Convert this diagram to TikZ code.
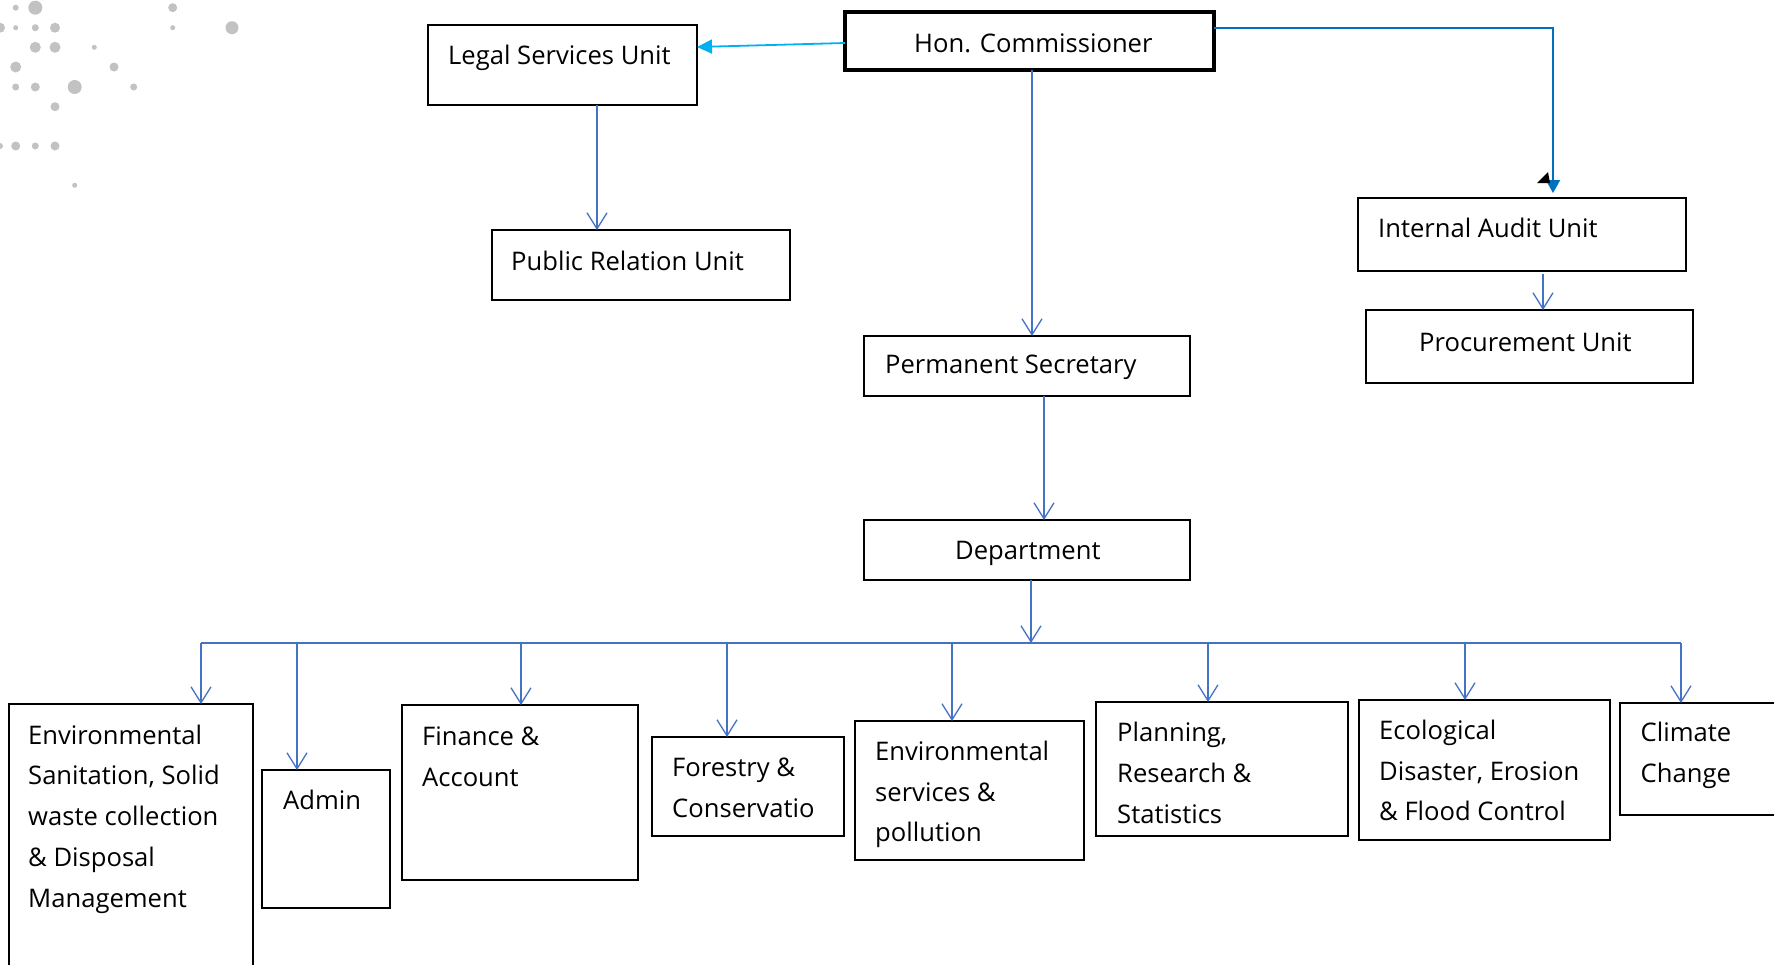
\documentclass[tikz,border=0pt]{standalone}
\usepackage{fontspec}
\setmainfont{Open Sans}
\usetikzlibrary{arrows.meta,calc}
\definecolor{connblue}{RGB}{68,114,196}
\definecolor{cyanln}{RGB}{0,176,240}
\definecolor{auditln}{RGB}{0,112,192}
\definecolor{dotgray}{RGB}{194,194,194}
\newcommand{\orgbox}[6][]{\node[box,#1, minimum width={#4-#2}, minimum height={#5-#3}] (#6) at (#2,-#3) {};}
\begin{document}
\begin{tikzpicture}[x=1pt,y=1pt,
  box/.style={draw=black, line width=1.3pt, inner sep=0pt, outer sep=0pt, anchor=north west},
  lbl/.style={inner sep=0pt, anchor=west, align=left, font=\fontsize{25.6}{40.7}\selectfont},
  conline/.style={draw=connblue, line width=1.4pt},
  conarrow/.style={conline, -{Straight Barb[length=16pt,width=20pt,line width=1.3pt]}},
  cyanarrow/.style={draw=cyanln, line width=1.8pt, -{Triangle[length=15pt,width=14pt]}},
  auditarrow/.style={draw=auditln, line width=2pt, -{Triangle[length=13pt,width=14pt]}}
]
\useasboundingbox (0,0) rectangle (1774,-964);
\clip (0,0) rectangle (1774,-964);
\fill[white] (0,0) rectangle (1774,-964);

% decorative dots
\foreach \x/\y/\r in {15.7/7.7/3, 35.3/7.7/7, 172.7/7.7/4.5, 0/27.7/5, 15.7/27.7/2.5, 35.3/27.7/3.5, 55/27.7/5,
  172.7/27.7/2.5, 232/27.7/6.5, 35.3/47.3/5.5, 55/47.3/5.5, 94.3/47.3/2.5, 15.7/67/5.5, 114/67/4.5,
  15.7/87/3.5, 35.3/87/4.5, 74.7/87/7, 133.7/87/3.5, 55/106.7/4.5, 0/146/3, 15.7/146/4.5, 35.3/146/3.5,
  55/146/4.5, 74.7/185.3/2.5}
  \fill[dotgray] (\x,-\y) circle (\r);

% boxes
\orgbox[line width=4pt]{845}{12}{1214}{70}{comm}
\orgbox{428}{25}{697}{105}{legal}
\orgbox{492}{230}{790}{300}{pr}
\orgbox{1358}{198}{1686}{271}{audit}
\orgbox{1366}{310}{1693}{383}{proc}
\orgbox{864}{336}{1190}{396}{ps}
\orgbox{864}{520}{1190}{580}{dept}
\orgbox{9}{704}{253}{1000}{envsan}
\orgbox{262}{770}{390}{908}{admin}
\orgbox{402}{705}{638}{880}{fin}
\orgbox{652}{737}{844}{836}{forest}
\orgbox{855}{721}{1084}{860}{envserv}
\orgbox{1096}{702}{1348}{836}{plan}
\orgbox{1359}{700}{1610}{840}{eco}
\orgbox{1620}{703}{1800}{815}{clim}

% texts
\node[lbl] (comm-t) at (914,-43) {Hon. Commissioner};
\node[lbl] (legal-t) at (448,-58) {Legal Services Unit};
\node[lbl] (pr-t) at (511,-261) {Public Relation Unit};
\node[lbl] (audit-t) at (1378,-228) {Internal Audit Unit};
\node[lbl] (proc-t) at (1419,-342) {Procurement Unit};
\node[lbl] (ps-t) at (885,-367) {Permanent Secretary};
\node[lbl] (dept-t) at (955,-553) {Department};
\node[lbl] (envsan-t) at (28,-819) {Environmental\\Sanitation, Solid\\waste collection\\\& Disposal\\Management};
\node[lbl] (admin-t) at (283,-800) {Admin};
\node[lbl] (fin-t) at (422,-756.5) {Finance \&\\Account};
\node[lbl] (forest-t) at (672,-788) {Forestry \&\\Conservatio};
\node[lbl] (envserv-t) at (875,-794.5) {Environmental\\services \&\\pollution};
\node[lbl] (plan-t) at (1117,-773) {Planning,\\Research \&\\Statistics};
\node[lbl] (eco-t) at (1379,-770.5) {Ecological\\Disaster, Erosion\\\& Flood Control};
\node[lbl] (clim-t) at (1640.5,-755.5) {Climate\\Change};

% connectors
\draw[cyanarrow] ([yshift=-2pt]comm.west) -- ([yshift=-22pt]legal.north east);
\draw[conarrow] ([xshift=169pt]legal.south west) -- ([xshift=105pt]pr.north west);
\draw[conarrow] ([xshift=5pt]ps.north |- comm.south) -- ([xshift=5pt]ps.north);
\draw[conarrow] ([xshift=17pt]ps.south) -- ([xshift=17pt]dept.north);

\coordinate (acorner) at (1553,-28);
\draw[auditarrow, shorten >=5pt] ([yshift=13pt]comm.east) -- (acorner) -- (acorner |- audit.north);
\fill[black] (1537,-183) -- (1548,-172) -- (1550,-183) -- cycle;
\draw[conarrow, shorten <=3pt] ([xshift=21pt]audit.south) -- ([xshift=21pt]audit.south |- proc.north);

\coordinate (busmid) at (1031,-643);
\coordinate (busL) at (201,-643);
\coordinate (busR) at (1681,-643);
\draw[conarrow] (busmid |- dept.south) -- (busmid);
\draw[conline] (busL) -- (busR);
\coordinate (b1) at (201,-643);
\coordinate (b2) at (297,-643);
\coordinate (b3) at (521,-643);
\coordinate (b4) at (727,-643);
\coordinate (b5) at (952,-643);
\coordinate (b6) at (1208,-643);
\coordinate (b7) at (1465,-643);
\coordinate (b8) at (1681,-643);
\draw[conarrow] (b1) -- (b1 |- envsan.north);
\draw[conarrow] (b2) -- (b2 |- admin.north);
\draw[conarrow] (b3) -- (b3 |- fin.north);
\draw[conarrow] (b4) -- (b4 |- forest.north);
\draw[conarrow] (b5) -- (b5 |- envserv.north);
\draw[conarrow] (b6) -- (b6 |- plan.north);
\draw[conarrow] (b7) -- (b7 |- eco.north);
\draw[conarrow] (b8) -- (b8 |- clim.north);
\end{tikzpicture}
\end{document}
